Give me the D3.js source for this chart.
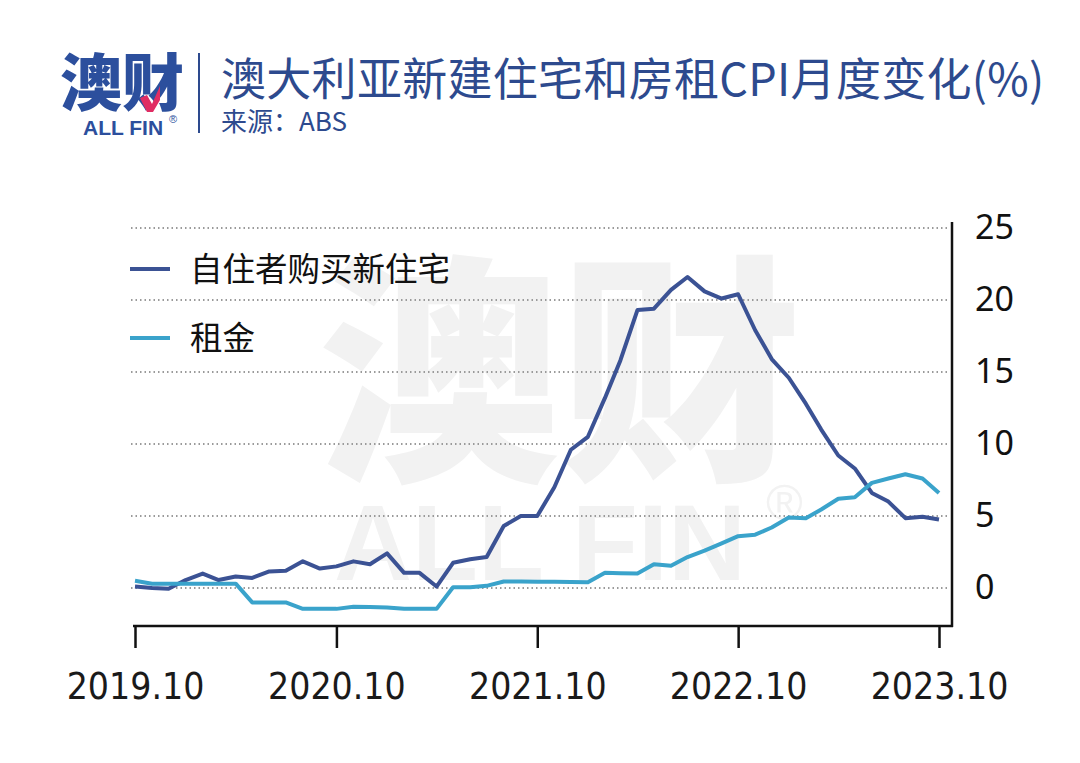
<!DOCTYPE html>
<html>
<head>
<meta charset="utf-8">
<script src="https://cdn.jsdelivr.net/npm/d3@7"></script>
<style>
  body { margin: 0; background: #fff; }
  svg { display: block; }
</style>
</head>
<body>
<div id="chart"></div>
<script>
// Daten: Monatswerte
const months = [
  "2019-10","2019-11","2019-12","2020-01","2020-02","2020-03","2020-04","2020-05","2020-06","2020-07","2020-08","2020-09",
  "2020-10","2020-11","2020-12","2021-01","2021-02","2021-03","2021-04","2021-05","2021-06","2021-07","2021-08","2021-09",
  "2021-10","2021-11","2021-12","2022-01","2022-02","2022-03","2022-04","2022-05","2022-06","2022-07","2022-08","2022-09",
  "2022-10","2022-11","2022-12","2023-01","2023-02","2023-03","2023-04","2023-05","2023-06","2023-07","2023-08","2023-09",
  "2023-10"
];
const newDwellings = [
  0.1, 0.0, -0.05, 0.55, 1.0, 0.55, 0.8, 0.7, 1.15, 1.2, 1.85, 1.35,
  1.5, 1.85, 1.65, 2.4, 1.05, 1.05, 0.1, 1.75, 2.0, 2.15, 4.3, 5.0,
  5.0, 7.0, 9.6, 10.5, 13.2, 15.8, 19.3, 19.4, 20.7, 21.6, 20.6, 20.1,
  20.4, 17.9, 15.9, 14.6, 12.8, 11.0, 9.2, 8.3, 6.6, 6.0, 4.85, 4.95,
  4.75
];
const rents = [
  0.5, 0.3, 0.3, 0.3, 0.3, 0.3, 0.3, -1.0, -1.0, -1.0, -1.45, -1.45,
  -1.45, -1.3, -1.32, -1.35, -1.45, -1.45, -1.45, 0.05, 0.05, 0.15, 0.45, 0.45,
  0.43, 0.43, 0.42, 0.4, 1.05, 1.03, 1.0, 1.65, 1.55, 2.15, 2.6, 3.1,
  3.6, 3.7, 4.2, 4.9, 4.85, 5.45, 6.2, 6.3, 7.3, 7.6, 7.9, 7.6,
  6.6
];
const seriesNames = ["自住者购买新住宅", "租金"];
const xTickLabels = ["2019.10", "2020.10", "2021.10", "2022.10", "2023.10"];
const yTicks = [0, 5, 10, 15, 20, 25];

const width = 1080;
const height = 763;
const colors = ["#3b5294", "#3aa3cb"];
const navy = "#2d4a8e";
const cjk = "'Noto Sans CJK SC', 'Noto Sans', sans-serif";

const svg = d3.select("#chart")
  .append("svg")
  .attr("width", width)
  .attr("height", height);

const parse = d3.timeParse("%Y-%m");
const dates = months.map(parse);

// Skalen
const x = d3.scaleTime()
  .domain([parse("2019-10"), parse("2023-10")])
  .range([135, 939]);
const y = d3.scaleLinear()
  .domain([-2.64, 25])
  .range([626, 228]);

// Wasserzeichen
const wm = svg.append("g").attr("fill", "#f2f2f2");
wm.append("text")
  .attr("x", 318).attr("y", 462)
  .style("font-family", cjk).style("font-weight", 900)
  .style("font-size", "242px")
  .text("澳财");
wm.append("text")
  .attr("x", 334).attr("y", 580)
  .style("font-family", "'Liberation Sans', Arial, sans-serif").style("font-weight", 700)
  .style("font-size", "108px")
  .text("ALL FIN");
wm.append("text")
  .attr("x", 766).attr("y", 520)
  .style("font-family", "'Liberation Sans', Arial, sans-serif")
  .style("font-size", "50px")
  .text("®");

// Kopfbereich mit Logo
const head = svg.append("g");
head.append("text")
  .attr("x", 60).attr("y", 106)
  .attr("fill", "#2c4f9d")
  .style("font-family", cjk).style("font-weight", 900)
  .style("font-size", "62px")
  .text("澳财");
head.append("path")
  .attr("d", "M140,98 L147,95 L152,104 L160,86 L160,100 L153,112 L147,112 Z")
  .attr("fill", "#e02d63");
head.append("text")
  .attr("x", 83).attr("y", 135)
  .attr("fill", "#2c4f9d")
  .style("font-family", "'Liberation Sans', Arial, sans-serif").style("font-weight", 700)
  .style("font-size", "21px")
  .text("ALL FIN");
head.append("text")
  .attr("x", 169).attr("y", 123)
  .attr("fill", "#2c4f9d")
  .style("font-family", "'Liberation Sans', Arial, sans-serif")
  .style("font-size", "11px")
  .text("®");
head.append("line")
  .attr("x1", 199).attr("x2", 199)
  .attr("y1", 53).attr("y2", 133)
  .attr("stroke", navy).attr("stroke-width", 2);
head.append("text")
  .attr("x", 221).attr("y", 96)
  .attr("fill", navy)
  .style("font-family", cjk)
  .style("font-size", "45px")
  .style("letter-spacing", "0.3px")
  .text("澳大利亚新建住宅和房租CPI月度变化(%)");
head.append("text")
  .attr("x", 221).attr("y", 131)
  .attr("fill", navy)
  .style("font-family", cjk)
  .style("font-size", "26px")
  .text("来源：ABS");

// Gitternetz
svg.append("g")
  .selectAll("line")
  .data(yTicks)
  .enter()
  .append("line")
  .attr("x1", 131).attr("x2", 950)
  .attr("y1", d => y(d)).attr("y2", d => y(d))
  .attr("stroke", "#9a9a9a")
  .attr("stroke-width", 2)
  .attr("stroke-dasharray", "1.5,3");

// X-Achse unten
const xAxis = svg.append("g")
  .attr("transform", `translate(0,${y(-2.64)})`)
  .call(d3.axisBottom(x)
    .tickValues(xTickLabels.map(d => parse(d.replace(".", "-"))))
    .tickSize(22)
    .tickSizeOuter(0)
    .tickFormat((d, i) => xTickLabels[i]));
xAxis.select(".domain").remove();
xAxis.append("line")
  .attr("x1", 133).attr("x2", 953)
  .attr("stroke", "#111").attr("stroke-width", 2.5);
xAxis.selectAll(".tick line").attr("stroke", "#111").attr("stroke-width", 2.5);
xAxis.selectAll(".tick text")
  .attr("y", 47)
  .attr("fill", "#1a1a1a")
  .style("font-family", "'DejaVu Sans Condensed', 'DejaVu Sans', sans-serif")
  .style("font-stretch", "condensed")
  .style("font-size", "37px");

// Y-Achse rechts
const yAxis = svg.append("g")
  .attr("transform", "translate(952,0)")
  .call(d3.axisRight(y).tickValues(yTicks).tickSize(0).tickPadding(23));
yAxis.select(".domain").remove();
yAxis.append("line")
  .attr("y1", 222).attr("y2", 627)
  .attr("stroke", "#111").attr("stroke-width", 2.5);
yAxis.selectAll(".tick text")
  .attr("fill", "#111")
  .style("font-family", "'Noto Sans', sans-serif")
  .style("font-size", "34px");

// Linien
const line = d3.line()
  .x((d, i) => x(dates[i]))
  .y(d => y(d));

[newDwellings, rents].forEach((s, k) => {
  svg.append("path")
    .datum(s)
    .attr("fill", "none")
    .attr("stroke", colors[k])
    .attr("stroke-width", 4)
    .attr("stroke-linejoin", "round")
    .attr("d", line);
});

// Legende
const legend = svg.append("g");
seriesNames.forEach((name, k) => {
  const ly = 269 + k * 69;
  legend.append("line")
    .attr("x1", 130).attr("x2", 170)
    .attr("y1", ly).attr("y2", ly)
    .attr("stroke", colors[k]).attr("stroke-width", 4);
  legend.append("text")
    .attr("x", 190).attr("y", ly)
    .attr("dy", "0.36em")
    .attr("fill", "#111")
    .style("font-family", cjk)
    .style("font-size", "32.5px")
    .text(name);
});
</script>
</body>
</html>
